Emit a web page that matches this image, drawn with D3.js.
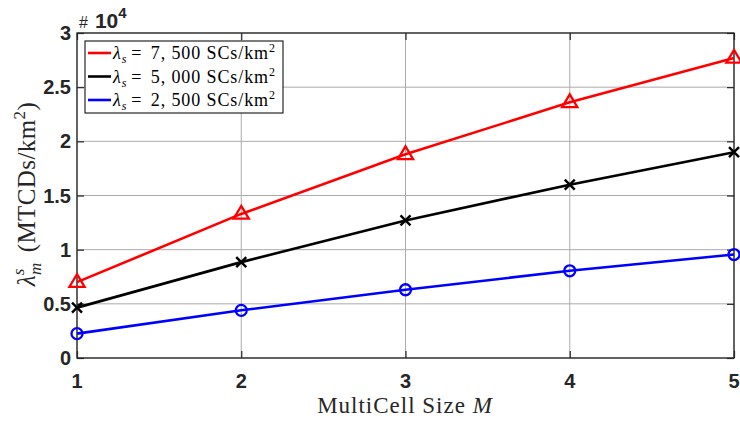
<!DOCTYPE html>
<html>
<head>
<meta charset="utf-8">
<script src="https://cdn.jsdelivr.net/npm/d3@7"></script>
<style>
  html, body { margin: 0; padding: 0; background: #fff; }
  svg { display: block; }
</style>
</head>
<body>
<svg id="chart" width="740" height="421"></svg>
<script>
// MultiCell size on the x axis
const multiCellSizes = [1, 2, 3, 4, 5];
// Density values, in units of 10^4 MTCDs/km^2
const density7500 = [0.70, 1.33, 1.88, 2.36, 2.77];
const density5000 = [0.465, 0.885, 1.27, 1.60, 1.90];
const density2500 = [0.225, 0.44, 0.63, 0.805, 0.955];
const xTicks = [1, 2, 3, 4, 5];
const yTicks = [0, 0.5, 1, 1.5, 2, 2.5, 3];
const yTickLabels = ["0", "0.5", "1", "1.5", "2", "2.5", "3"];
const legendDensities = ["7, 500", "5, 000", "2, 500"];

const seriesList = [
  { density: legendDensities[0], values: density7500, color: "#ff0000", marker: "triangle" },
  { density: legendDensities[1], values: density5000, color: "#000000", marker: "cross" },
  { density: legendDensities[2], values: density2500, color: "#0000ff", marker: "circle" }
];

const svg = d3.select("#chart");
const plot = { left: 77, right: 734, top: 33, bottom: 358 };

const x = d3.scaleLinear().domain([1, 5]).range([plot.left, plot.right]);
const y = d3.scaleLinear().domain([0, 3]).range([plot.bottom, plot.top]);

const serif = "'Liberation Serif', 'DejaVu Serif', serif";
const sans = "'Liberation Sans', Arial, sans-serif";

// grid
const grid = svg.append("g").attr("stroke", "#ababab").attr("stroke-width", 1);
xTicks.forEach(t => grid.append("line")
  .attr("x1", x(t)).attr("x2", x(t)).attr("y1", plot.top).attr("y2", plot.bottom));
yTicks.forEach(t => grid.append("line")
  .attr("x1", plot.left).attr("x2", plot.right).attr("y1", y(t)).attr("y2", y(t)));

// axes (ticks point inward)
const axisColor = "#262626";
const xAxisB = svg.append("g").attr("transform", `translate(0,${plot.bottom})`)
  .call(d3.axisTop(x).tickValues(xTicks).tickSize(7).tickFormat(""));
const xAxisT = svg.append("g").attr("transform", `translate(0,${plot.top})`)
  .call(d3.axisBottom(x).tickValues(xTicks).tickSize(7).tickFormat(""));
const yAxisL = svg.append("g").attr("transform", `translate(${plot.left},0)`)
  .call(d3.axisRight(y).tickValues(yTicks).tickSize(7).tickFormat(""));
const yAxisR = svg.append("g").attr("transform", `translate(${plot.right},0)`)
  .call(d3.axisLeft(y).tickValues(yTicks).tickSize(7).tickFormat(""));
[xAxisB, xAxisT, yAxisL, yAxisR].forEach(a => {
  a.select(".domain").remove();
  a.selectAll("line").attr("stroke", axisColor).attr("stroke-width", 1.2);
});
svg.append("rect")
  .attr("x", plot.left).attr("y", plot.top)
  .attr("width", plot.right - plot.left).attr("height", plot.bottom - plot.top)
  .attr("fill", "none").attr("stroke", axisColor).attr("stroke-width", 1.3);

// tick labels
svg.append("g").selectAll("text").data(xTicks).join("text")
  .attr("x", d => x(d)).attr("y", plot.bottom + 30)
  .attr("text-anchor", "middle")
  .attr("font-family", sans).attr("font-weight", "bold").attr("font-size", 20)
  .attr("fill", axisColor).text(d => d);
svg.append("g").selectAll("text").data(yTicks).join("text")
  .attr("x", plot.left - 6).attr("y", d => y(d) + 7)
  .attr("text-anchor", "end")
  .attr("font-family", sans).attr("font-weight", "bold").attr("font-size", 20)
  .attr("fill", axisColor).text((d, i) => yTickLabels[i]);

// exponent label
const expo = svg.append("text").attr("x", 79).attr("y", 28)
  .attr("font-family", sans).attr("fill", axisColor);
expo.append("tspan").attr("font-size", 16).text("#");
expo.append("tspan").attr("dx", 7).attr("font-size", 21).attr("font-weight", "bold").text("10");
expo.append("tspan").attr("dy", -10).attr("font-size", 15).attr("font-weight", "bold").text("4");

// axis titles
const xt = svg.append("text").attr("x", 405).attr("y", 413)
  .attr("text-anchor", "middle").attr("font-family", serif).attr("font-size", 23)
  .attr("letter-spacing", 1).attr("fill", axisColor);
xt.append("tspan").text("MultiCell Size ");
xt.append("tspan").attr("font-style", "italic").text("M");

const yt = svg.append("text")
  .attr("transform", "translate(35,194) rotate(-90)")
  .attr("text-anchor", "middle").attr("font-family", serif).attr("font-size", 25)
  .attr("letter-spacing", 0.4).attr("fill", axisColor);
yt.append("tspan").attr("font-style", "italic").text("λ");
yt.append("tspan").attr("font-style", "italic").attr("font-size", 17).attr("dy", 6).text("m");
yt.append("tspan").attr("font-style", "italic").attr("font-size", 17).attr("dx", -13).attr("dy", -17).text("s");
yt.append("tspan").attr("dy", 11).attr("dx", 16).text("(MTCDs/km");
yt.append("tspan").attr("font-size", 17).attr("dy", -10).text("2");
yt.append("tspan").attr("dy", 10).text(")");

// markers
function drawMarker(g, kind, cx, cy, color) {
  if (kind === "triangle") {
    const r = 8;
    g.append("path")
      .attr("d", `M${cx},${cy - r} L${cx + r * 0.95},${cy + r * 0.6} L${cx - r * 0.95},${cy + r * 0.6} Z`)
      .attr("fill", "none").attr("stroke", color).attr("stroke-width", 2.3);
  } else if (kind === "cross") {
    const r = 5;
    g.append("path")
      .attr("d", `M${cx - r},${cy - r} L${cx + r},${cy + r} M${cx - r},${cy + r} L${cx + r},${cy - r}`)
      .attr("stroke", color).attr("stroke-width", 2.4);
  } else {
    g.append("circle").attr("cx", cx).attr("cy", cy).attr("r", 5.5)
      .attr("fill", "none").attr("stroke", color).attr("stroke-width", 2.3);
  }
}

const line = d3.line().x((d, i) => x(multiCellSizes[i])).y(d => y(d));
seriesList.slice().reverse().forEach(s => {
  const g = svg.append("g");
  g.append("path").datum(s.values).attr("d", line)
    .attr("fill", "none").attr("stroke", s.color).attr("stroke-width", 2.6);
  s.values.forEach((v, i) => drawMarker(g, s.marker, x(multiCellSizes[i]), y(v), s.color));
});

// legend
const legend = svg.append("g");
legend.append("rect").attr("x", 85).attr("y", 41).attr("width", 198).attr("height", 72)
  .attr("fill", "#fff").attr("stroke", axisColor).attr("stroke-width", 1.2);
seriesList.forEach((s, i) => {
  const ly = 53 + i * 23.5;
  legend.append("line").attr("x1", 88).attr("x2", 111).attr("y1", ly).attr("y2", ly)
    .attr("stroke", s.color).attr("stroke-width", 2.6);
  const t = legend.append("text").attr("x", 113).attr("y", ly + 6)
    .attr("font-family", serif).attr("font-size", 18).attr("letter-spacing", 0.9)
    .attr("fill", "#000");
  t.append("tspan").attr("font-style", "italic").text("λ");
  t.append("tspan").attr("font-style", "italic").attr("font-size", 12).attr("dy", 4).text("s");
  t.append("tspan").attr("dy", -4).attr("dx", 4).text("=");
  t.append("tspan").attr("dx", 3).text(` ${s.density} SCs/km`);
  t.append("tspan").attr("font-size", 12).attr("dy", -7).text("2");
});
</script>
</body>
</html>
